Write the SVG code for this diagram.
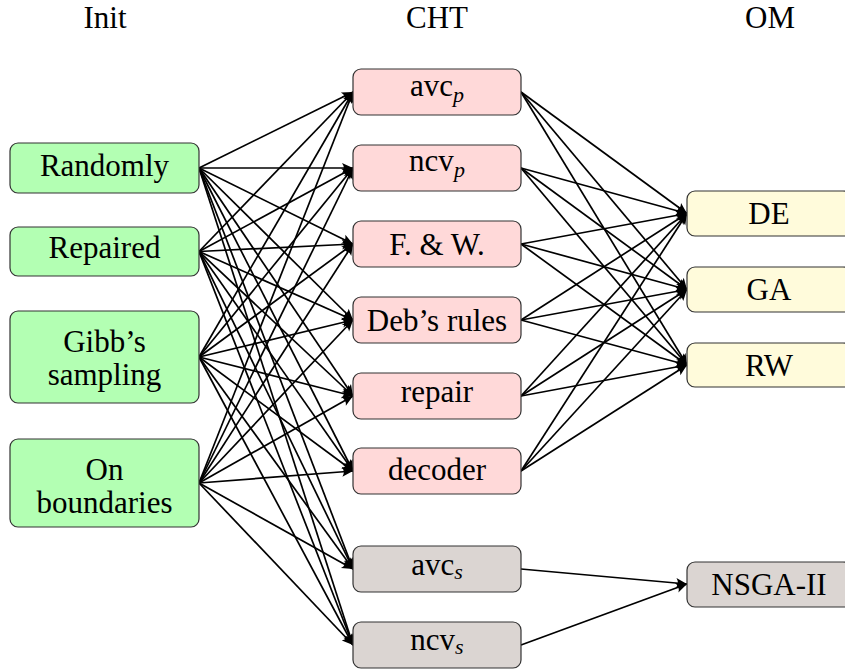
<svg xmlns="http://www.w3.org/2000/svg" width="845" height="671" viewBox="0 0 845 671" font-family="'Liberation Serif', 'Times New Roman', Times, serif">
<style>
text{font-family:'Liberation Serif','Times New Roman',Times,serif;font-size:31px;fill:#000;text-anchor:middle}
.box{stroke:#333;stroke-width:1.2}
.init{fill:#b3ffb3}
.pen{fill:#ffd9d9}
.sep{fill:#dbd5d2}
.om{fill:#fffbdb}
.sub{font-size:22px;font-style:italic}
#edges line{stroke:#000;stroke-width:1.7;marker-end:url(#arr)}
</style>
<defs>
<marker id="arr" viewBox="-12 -6 13 12" refX="0" refY="0" markerWidth="13" markerHeight="12" markerUnits="userSpaceOnUse" orient="auto">
<path d="M0,0 L-11,-5 Q-7.5,0 -11,5 Z" fill="#000"/>
</marker>
</defs>
<rect width="845" height="671" fill="#fff"/>
<g id="headers">
<text x="105" y="28">Init</text>
<text x="437" y="28">CHT</text>
<text x="770" y="28">OM</text>
</g>
<g id="edges">
<line x1="199" y1="168" x2="353" y2="92"/>
<line x1="199" y1="168" x2="353" y2="168"/>
<line x1="199" y1="168" x2="353" y2="244"/>
<line x1="199" y1="168" x2="353" y2="320"/>
<line x1="199" y1="168" x2="353" y2="396"/>
<line x1="199" y1="168" x2="353" y2="471"/>
<line x1="199" y1="168" x2="353" y2="569"/>
<line x1="199" y1="168" x2="353" y2="645"/>
<line x1="199" y1="251.5" x2="353" y2="92"/>
<line x1="199" y1="251.5" x2="353" y2="168"/>
<line x1="199" y1="251.5" x2="353" y2="244"/>
<line x1="199" y1="251.5" x2="353" y2="320"/>
<line x1="199" y1="251.5" x2="353" y2="396"/>
<line x1="199" y1="251.5" x2="353" y2="471"/>
<line x1="199" y1="251.5" x2="353" y2="569"/>
<line x1="199" y1="251.5" x2="353" y2="645"/>
<line x1="199" y1="357" x2="353" y2="92"/>
<line x1="199" y1="357" x2="353" y2="168"/>
<line x1="199" y1="357" x2="353" y2="244"/>
<line x1="199" y1="357" x2="353" y2="320"/>
<line x1="199" y1="357" x2="353" y2="396"/>
<line x1="199" y1="357" x2="353" y2="471"/>
<line x1="199" y1="357" x2="353" y2="569"/>
<line x1="199" y1="357" x2="353" y2="645"/>
<line x1="199" y1="483" x2="353" y2="92"/>
<line x1="199" y1="483" x2="353" y2="168"/>
<line x1="199" y1="483" x2="353" y2="244"/>
<line x1="199" y1="483" x2="353" y2="320"/>
<line x1="199" y1="483" x2="353" y2="396"/>
<line x1="199" y1="483" x2="353" y2="471"/>
<line x1="199" y1="483" x2="353" y2="569"/>
<line x1="199" y1="483" x2="353" y2="645"/>
<line x1="521" y1="92" x2="687" y2="213.5"/>
<line x1="521" y1="92" x2="687" y2="289.5"/>
<line x1="521" y1="92" x2="687" y2="365"/>
<line x1="521" y1="168" x2="687" y2="213.5"/>
<line x1="521" y1="168" x2="687" y2="289.5"/>
<line x1="521" y1="168" x2="687" y2="365"/>
<line x1="521" y1="244" x2="687" y2="213.5"/>
<line x1="521" y1="244" x2="687" y2="289.5"/>
<line x1="521" y1="244" x2="687" y2="365"/>
<line x1="521" y1="320" x2="687" y2="213.5"/>
<line x1="521" y1="320" x2="687" y2="289.5"/>
<line x1="521" y1="320" x2="687" y2="365"/>
<line x1="521" y1="396" x2="687" y2="213.5"/>
<line x1="521" y1="396" x2="687" y2="289.5"/>
<line x1="521" y1="396" x2="687" y2="365"/>
<line x1="521" y1="471" x2="687" y2="213.5"/>
<line x1="521" y1="471" x2="687" y2="289.5"/>
<line x1="521" y1="471" x2="687" y2="365"/>
<line x1="521" y1="569" x2="687" y2="584"/>
<line x1="521" y1="645" x2="687" y2="584"/>
</g>
<g id="randomly"><rect class="box init" x="10" y="143" width="189" height="50" rx="8"/><text x="104.5" y="176">Randomly</text></g>
<g id="repaired"><rect class="box init" x="10" y="227" width="189" height="49" rx="8"/><text x="104.5" y="258">Repaired</text></g>
<g id="gibbs"><rect class="box init" x="10" y="311" width="189" height="92" rx="8"/><text x="104.5" y="352">Gibb’s</text><text x="104.5" y="385">sampling</text></g>
<g id="boundaries"><rect class="box init" x="10" y="439" width="189" height="88" rx="8"/><text x="104.5" y="480">On</text><text x="104.5" y="513">boundaries</text></g>
<g id="avcp"><rect class="box pen" x="353" y="69" width="168" height="46" rx="8"/><text x="437" y="96">avc<tspan class="sub" dy="6">p</tspan></text></g>
<g id="ncvp"><rect class="box pen" x="353" y="145" width="168" height="46" rx="8"/><text x="437" y="171">ncv<tspan class="sub" dy="6">p</tspan></text></g>
<g id="fw"><rect class="box pen" x="353" y="221" width="168" height="46" rx="8"/><text x="437" y="254.5">F. &amp; W.</text></g>
<g id="deb"><rect class="box pen" x="353" y="297" width="168" height="46" rx="8"/><text x="437" y="330.5">Deb’s rules</text></g>
<g id="repair"><rect class="box pen" x="353" y="373" width="168" height="46" rx="8"/><text x="437" y="402">repair</text></g>
<g id="decoder"><rect class="box pen" x="353" y="448" width="168" height="46" rx="8"/><text x="437" y="480">decoder</text></g>
<g id="avcs"><rect class="box sep" x="353" y="546" width="168" height="46" rx="8"/><text x="437" y="575">avc<tspan class="sub" dy="4">s</tspan></text></g>
<g id="ncvs"><rect class="box sep" x="353" y="622" width="168" height="46" rx="8"/><text x="437" y="650">ncv<tspan class="sub" dy="4">s</tspan></text></g>
<g id="de"><rect class="box om" x="687" y="191" width="164" height="45" rx="8"/><text x="769" y="224">DE</text></g>
<g id="ga"><rect class="box om" x="687" y="267" width="164" height="45" rx="8"/><text x="769" y="300">GA</text></g>
<g id="rw"><rect class="box om" x="687" y="343" width="164" height="44" rx="8"/><text x="769" y="376">RW</text></g>
<g id="nsga"><rect class="box sep" x="687" y="562" width="164" height="45" rx="8"/><text x="769" y="595">NSGA-II</text></g>
</svg>
